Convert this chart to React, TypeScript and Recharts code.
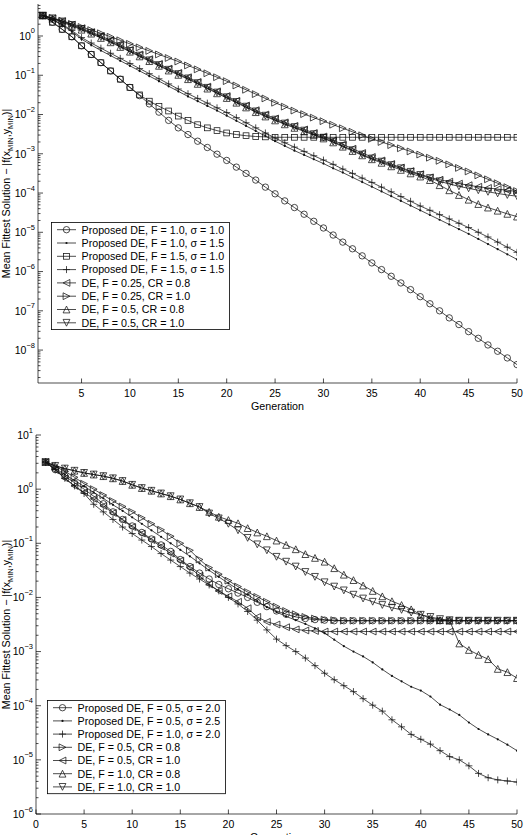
import React from 'react';
import { LineChart, Line, XAxis, YAxis, Legend } from 'recharts';

const FONT = '"Liberation Sans", Arial, Helvetica, sans-serif';

// generations (x categories)
const generations = Array.from({ length: 50 }, (_, i) => i + 1);

// ---- Top panel: values read as powers of ten (log10 of mean fittest solution) ----
const topCircle = [0.52, 0.35, 0.17, -0.02, -0.25, -0.47, -0.68, -0.89, -1.10, -1.31, -1.52, -1.73, -1.94, -2.15, -2.34, -2.51, -2.68, -2.84, -3.01, -3.17, -3.34, -3.50, -3.67, -3.85, -4.02, -4.20, -4.37, -4.54, -4.72, -4.89, -5.07, -5.25, -5.42, -5.60, -5.78, -5.95, -6.12, -6.29, -6.46, -6.64, -6.82, -7.00, -7.18, -7.35, -7.53, -7.70, -7.87, -8.03, -8.20, -8.37];
const topDot = [0.52, 0.41, 0.28, 0.11, -0.08, -0.23, -0.37, -0.50, -0.63, -0.76, -0.89, -1.02, -1.15, -1.28, -1.41, -1.54, -1.66, -1.78, -1.90, -2.03, -2.16, -2.29, -2.42, -2.55, -2.68, -2.80, -2.92, -3.03, -3.14, -3.25, -3.37, -3.48, -3.60, -3.72, -3.84, -3.96, -4.08, -4.20, -4.32, -4.44, -4.56, -4.68, -4.80, -4.92, -5.04, -5.17, -5.30, -5.43, -5.56, -5.69];
const topSquare = [0.52, 0.35, 0.17, -0.02, -0.25, -0.47, -0.68, -0.89, -1.10, -1.31, -1.50, -1.66, -1.79, -1.91, -2.04, -2.15, -2.26, -2.34, -2.41, -2.47, -2.51, -2.54, -2.56, -2.57, -2.58, -2.58, -2.58, -2.58, -2.58, -2.58, -2.58, -2.58, -2.58, -2.58, -2.58, -2.58, -2.58, -2.58, -2.58, -2.58, -2.58, -2.58, -2.58, -2.58, -2.58, -2.58, -2.58, -2.58, -2.58, -2.58];
const topPlus = [0.52, 0.42, 0.30, 0.14, -0.04, -0.18, -0.31, -0.44, -0.57, -0.70, -0.83, -0.96, -1.09, -1.22, -1.35, -1.47, -1.59, -1.71, -1.83, -1.95, -2.08, -2.21, -2.34, -2.47, -2.60, -2.72, -2.83, -2.94, -3.05, -3.16, -3.27, -3.39, -3.50, -3.62, -3.73, -3.85, -3.97, -4.09, -4.21, -4.33, -4.44, -4.55, -4.66, -4.77, -4.88, -5.00, -5.12, -5.25, -5.38, -5.51];
const topLeftTri = [0.52, 0.45, 0.38, 0.29, 0.20, 0.10, 0.00, -0.11, -0.23, -0.35, -0.47, -0.59, -0.71, -0.83, -0.94, -1.05, -1.17, -1.29, -1.41, -1.53, -1.65, -1.77, -1.89, -2.00, -2.10, -2.20, -2.29, -2.38, -2.47, -2.56, -2.66, -2.76, -2.87, -2.98, -3.08, -3.17, -3.26, -3.35, -3.44, -3.52, -3.60, -3.66, -3.71, -3.76, -3.80, -3.84, -3.87, -3.90, -3.93, -3.96];
const topRightTri = [0.52, 0.46, 0.39, 0.31, 0.23, 0.15, 0.07, -0.02, -0.11, -0.20, -0.29, -0.38, -0.47, -0.56, -0.65, -0.75, -0.85, -0.95, -1.05, -1.15, -1.26, -1.37, -1.48, -1.59, -1.70, -1.80, -1.90, -1.99, -2.08, -2.17, -2.26, -2.35, -2.44, -2.53, -2.62, -2.70, -2.78, -2.86, -2.94, -3.02, -3.10, -3.18, -3.27, -3.36, -3.45, -3.55, -3.65, -3.75, -3.85, -3.95];
const topUpTri = [0.52, 0.44, 0.35, 0.26, 0.16, 0.06, -0.05, -0.16, -0.28, -0.40, -0.52, -0.64, -0.76, -0.88, -0.99, -1.10, -1.22, -1.34, -1.46, -1.58, -1.70, -1.82, -1.94, -2.05, -2.15, -2.25, -2.34, -2.43, -2.52, -2.61, -2.71, -2.82, -2.93, -3.04, -3.14, -3.23, -3.32, -3.41, -3.50, -3.58, -3.67, -3.80, -3.93, -4.05, -4.17, -4.28, -4.37, -4.45, -4.53, -4.60];
const topDownTri = [0.52, 0.45, 0.37, 0.28, 0.18, 0.08, -0.03, -0.14, -0.26, -0.38, -0.50, -0.62, -0.74, -0.86, -0.97, -1.08, -1.20, -1.32, -1.44, -1.56, -1.68, -1.80, -1.92, -2.03, -2.13, -2.23, -2.32, -2.41, -2.50, -2.59, -2.69, -2.80, -2.91, -3.02, -3.12, -3.20, -3.29, -3.37, -3.46, -3.54, -3.62, -3.70, -3.77, -3.83, -3.88, -3.93, -3.97, -4.01, -4.05, -4.08];

// ---- Bottom panel ----
const botCircle = [0.50, 0.36, 0.24, 0.12, 0.00, -0.13, -0.27, -0.42, -0.56, -0.68, -0.80, -0.92, -1.03, -1.15, -1.30, -1.43, -1.55, -1.66, -1.76, -1.84, -1.92, -2.00, -2.09, -2.17, -2.25, -2.31, -2.36, -2.39, -2.41, -2.42, -2.43, -2.43, -2.43, -2.43, -2.43, -2.43, -2.43, -2.43, -2.43, -2.43, -2.43, -2.43, -2.43, -2.43, -2.43, -2.43, -2.43, -2.43, -2.43, -2.43];
const botDot = [0.50, 0.38, 0.27, 0.16, 0.05, -0.06, -0.17, -0.29, -0.40, -0.52, -0.64, -0.76, -0.88, -1.00, -1.12, -1.24, -1.37, -1.50, -1.62, -1.74, -1.85, -1.95, -2.07, -2.18, -2.27, -2.35, -2.42, -2.49, -2.57, -2.66, -2.78, -2.90, -3.00, -3.09, -3.20, -3.33, -3.45, -3.55, -3.65, -3.72, -3.83, -3.98, -4.07, -4.17, -4.31, -4.43, -4.53, -4.62, -4.72, -4.83];
const botPlus = [0.50, 0.36, 0.20, 0.06, -0.08, -0.28, -0.42, -0.56, -0.70, -0.82, -0.94, -1.06, -1.19, -1.31, -1.43, -1.55, -1.66, -1.77, -1.88, -2.00, -2.12, -2.26, -2.42, -2.60, -2.77, -2.89, -3.00, -3.12, -3.26, -3.40, -3.52, -3.63, -3.74, -3.87, -3.99, -4.10, -4.26, -4.39, -4.53, -4.62, -4.71, -4.83, -4.94, -5.00, -5.11, -5.25, -5.33, -5.37, -5.39, -5.41];
const botRightTri = [0.50, 0.42, 0.33, 0.22, 0.10, 0.00, -0.11, -0.22, -0.32, -0.42, -0.53, -0.64, -0.75, -0.87, -1.00, -1.13, -1.30, -1.45, -1.57, -1.69, -1.80, -1.90, -1.99, -2.08, -2.17, -2.25, -2.31, -2.36, -2.39, -2.41, -2.42, -2.43, -2.43, -2.43, -2.43, -2.43, -2.43, -2.43, -2.43, -2.43, -2.43, -2.43, -2.43, -2.43, -2.43, -2.43, -2.43, -2.43, -2.43, -2.43];
const botLeftTri = [0.50, 0.35, 0.20, 0.06, -0.06, -0.18, -0.31, -0.44, -0.57, -0.70, -0.82, -0.94, -1.06, -1.19, -1.32, -1.45, -1.60, -1.76, -1.88, -1.98, -2.08, -2.20, -2.36, -2.45, -2.50, -2.55, -2.59, -2.61, -2.62, -2.63, -2.63, -2.63, -2.63, -2.63, -2.63, -2.63, -2.63, -2.63, -2.63, -2.63, -2.63, -2.63, -2.63, -2.63, -2.63, -2.63, -2.63, -2.63, -2.63, -2.63];
const botUpTri = [0.50, 0.43, 0.38, 0.34, 0.30, 0.27, 0.24, 0.20, 0.15, 0.08, 0.02, -0.03, -0.08, -0.13, -0.19, -0.26, -0.33, -0.42, -0.51, -0.57, -0.63, -0.72, -0.80, -0.87, -0.95, -1.03, -1.11, -1.20, -1.27, -1.34, -1.46, -1.58, -1.68, -1.78, -1.88, -1.98, -2.07, -2.14, -2.22, -2.32, -2.38, -2.42, -2.43, -2.85, -2.97, -3.06, -3.14, -3.32, -3.38, -3.49];
const botDownTri = [0.50, 0.43, 0.38, 0.34, 0.30, 0.27, 0.24, 0.20, 0.15, 0.08, 0.02, -0.03, -0.08, -0.13, -0.19, -0.26, -0.33, -0.45, -0.54, -0.64, -0.76, -0.90, -1.02, -1.13, -1.25, -1.34, -1.43, -1.53, -1.62, -1.72, -1.80, -1.87, -1.95, -2.02, -2.08, -2.14, -2.19, -2.23, -2.28, -2.32, -2.36, -2.40, -2.42, -2.43, -2.43, -2.43, -2.43, -2.43, -2.43, -2.43];

// ---- axis ticks ----
const topXTicks = [5, 10, 15, 20, 25, 30, 35, 40, 45, 50];
const botXTicks = [0, 5, 10, 15, 20, 25, 30, 35, 40, 45, 50];
const topDecades = [-9, -8, -7, -6, -5, -4, -3, -2, -1, 0];
const botDecades = [-6, -5, -4, -3, -2, -1, 0, 1];
const topYDomain = [1.45e-9, 6.53];
const botYDomain = [1e-6, 10];

type Shape = 'circle' | 'dot' | 'square' | 'plus' | 'left' | 'right' | 'up' | 'down';
interface Series { key: string; name: string; shape: Shape; exps: number[] }

const topSeries: Series[] = [
  { key: 's1', name: 'Proposed DE, F = 1.0, σ = 1.0', shape: 'circle', exps: topCircle },
  { key: 's2', name: 'Proposed DE, F = 1.0, σ = 1.5', shape: 'dot', exps: topDot },
  { key: 's3', name: 'Proposed DE, F = 1.5, σ = 1.0', shape: 'square', exps: topSquare },
  { key: 's4', name: 'Proposed DE, F = 1.5, σ = 1.5', shape: 'plus', exps: topPlus },
  { key: 's5', name: 'DE, F = 0.25, CR = 0.8', shape: 'left', exps: topLeftTri },
  { key: 's6', name: 'DE, F = 0.25, CR = 1.0', shape: 'right', exps: topRightTri },
  { key: 's7', name: 'DE, F = 0.5, CR = 0.8', shape: 'up', exps: topUpTri },
  { key: 's8', name: 'DE, F = 0.5, CR = 1.0', shape: 'down', exps: topDownTri },
];

const botSeries: Series[] = [
  { key: 's1', name: 'Proposed DE, F = 0.5, σ = 2.0', shape: 'circle', exps: botCircle },
  { key: 's2', name: 'Proposed DE, F = 0.5, σ = 2.5', shape: 'dot', exps: botDot },
  { key: 's3', name: 'Proposed DE, F = 1.0, σ = 2.0', shape: 'plus', exps: botPlus },
  { key: 's4', name: 'DE, F = 0.5, CR = 0.8', shape: 'right', exps: botRightTri },
  { key: 's5', name: 'DE, F = 0.5, CR = 1.0', shape: 'left', exps: botLeftTri },
  { key: 's6', name: 'DE, F = 1.0, CR = 0.8', shape: 'up', exps: botUpTri },
  { key: 's7', name: 'DE, F = 1.0, CR = 1.0', shape: 'down', exps: botDownTri },
];

function buildRows(series: Series[]) {
  return generations.map((g, i) => {
    const row: Record<string, number> = { gen: g };
    series.forEach((s) => { row[s.key] = Math.pow(10, s.exps[i]); });
    return row;
  });
}

function buildYTicks(decades: number[], domain: number[]) {
  const out: number[] = [];
  decades.forEach((e) => {
    for (let k = 1; k <= 9; k++) {
      const v = k * Math.pow(10, e);
      if (v >= domain[0] && v <= domain[1]) out.push(v);
    }
  });
  return out;
}

const STROKE = '#111';

function Marker({ shape, cx, cy }: { shape: Shape; cx: number; cy: number }) {
  const s = 3.4;
  const common = { fill: 'none', stroke: STROKE, strokeWidth: 0.75 };
  switch (shape) {
    case 'circle':
      return <circle cx={cx} cy={cy} r={3.2} {...common} />;
    case 'dot':
      return <circle cx={cx} cy={cy} r={1.1} fill={STROKE} />;
    case 'square':
      return <rect x={cx - 2.9} y={cy - 2.9} width={5.8} height={5.8} {...common} />;
    case 'plus':
      return <path d={`M${cx - 3.5},${cy}H${cx + 3.5}M${cx},${cy - 3.5}V${cy + 3.5}`} {...common} />;
    case 'left':
      return <polygon points={`${cx - s},${cy} ${cx + s},${cy - s} ${cx + s},${cy + s}`} {...common} />;
    case 'right':
      return <polygon points={`${cx + s},${cy} ${cx - s},${cy - s} ${cx - s},${cy + s}`} {...common} />;
    case 'up':
      return <polygon points={`${cx},${cy - s} ${cx - s},${cy + s} ${cx + s},${cy + s}`} {...common} />;
    case 'down':
      return <polygon points={`${cx},${cy + s} ${cx - s},${cy - s} ${cx + s},${cy - s}`} {...common} />;
  }
  return null;
}

function isMajor(v: number) {
  const l = Math.log10(v);
  return Math.abs(l - Math.round(l)) < 1e-6;
}

const YTickLeft = (props: any) => {
  const { x, y, payload } = props;
  const v = payload.value as number;
  const major = isMajor(v);
  const e = Math.round(Math.log10(v));
  return (
    <g>
      <line x1={x} x2={x + (major ? 5 : 2.5)} y1={y} y2={y} stroke="#000" strokeWidth={0.7} />
      {major && (
        <text x={x - 3} y={y + 3.8} textAnchor="end" fontSize={10.5} fontFamily={FONT} fill="#000">
          10<tspan dy={-6.3} fontSize={7.5}>{e < 0 ? `−${-e}` : `${e}`}</tspan>
        </text>
      )}
    </g>
  );
};

const YTickRight = (props: any) => {
  const { x, y, payload } = props;
  const major = isMajor(payload.value as number);
  return <line x1={x} x2={x - (major ? 5 : 2.5)} y1={y} y2={y} stroke="#000" strokeWidth={0.7} />;
};

const XTickBottom = (props: any) => {
  const { x, y, payload } = props;
  return (
    <g>
      <line x1={x} x2={x} y1={y} y2={y - 4.5} stroke="#000" strokeWidth={0.7} />
      <text x={x} y={y + 13.5} textAnchor="middle" fontSize={10.5} fontFamily={FONT} fill="#000">
        {payload.value}
      </text>
    </g>
  );
};

const XTickTop = (props: any) => {
  const { x, y } = props;
  return <line x1={x} x2={x} y1={y} y2={y + 4.5} stroke="#000" strokeWidth={0.7} />;
};

function LegendBox({ series, width, rowH }: { series: Series[]; width: number; rowH: number }) {
  const h = 15 + (series.length - 1) * rowH;
  return (
    <svg width={width} height={h} style={{ display: 'block', overflow: 'visible' }}>
      <rect x={0.5} y={0.5} width={width - 1} height={h - 1} fill="#fff" stroke="#000" strokeWidth={0.8} />
      {series.map((s, i) => {
        const cy = 7.7 + i * rowH;
        return (
          <g key={s.key}>
            <line x1={6} x2={25} y1={cy} y2={cy} stroke={STROKE} strokeWidth={0.75} />
            <Marker shape={s.shape} cx={15.5} cy={cy} />
            <text x={30.5} y={cy + 3.8} fontSize={10.7} fontFamily={FONT} fill="#000">
              {s.name}
            </text>
          </g>
        );
      })}
    </svg>
  );
}

function YLabel({ cx, cy }: { cx: number; cy: number }) {
  return (
    <text transform={`translate(${cx},${cy}) rotate(-90)`} textAnchor="middle" fontSize={10.7} fontFamily={FONT} fill="#000">
      Mean Fittest Solution − |f(x<tspan fontSize={7.5} dy={3}>MIN</tspan>
      <tspan dy={-3}>,y</tspan>
      <tspan fontSize={7.5} dy={3}>MIN</tspan>
      <tspan dy={-3}>)|</tspan>
    </text>
  );
}

interface PanelProps {
  series: Series[];
  width: number;
  height: number;
  margin: { top: number; right: number; bottom: number; left: number };
  xDomain: number[];
  xTicks: number[];
  xAxisHeight: number;
  yDomain: number[];
  yDecades: number[];
  yAxisWidth: number;
  legendLeft: number;
  legendTop: number;
  rowH: number;
}

function Panel(p: PanelProps) {
  const rows = buildRows(p.series);
  const yTicks = buildYTicks(p.yDecades, p.yDomain);
  const plotTop = p.margin.top;
  const plotBottom = p.height - p.margin.bottom - p.xAxisHeight;
  const plotLeft = p.margin.left + p.yAxisWidth;
  const plotRight = p.width - p.margin.right;
  const legendH = 15 + (p.series.length - 1) * p.rowH;
  return (
    <LineChart width={p.width} height={p.height} data={rows} margin={p.margin}>
      <XAxis
        xAxisId="b"
        dataKey="gen"
        type="number"
        domain={p.xDomain}
        ticks={p.xTicks}
        allowDataOverflow
        interval={0}
        height={p.xAxisHeight}
        tickSize={0}
        tickMargin={0}
        tickLine={false}
        axisLine={{ stroke: '#000', strokeWidth: 0.7 }}
        tick={XTickBottom}
        label={{
          value: 'Generation',
          content: () => (
            <text x={(plotLeft + plotRight) / 2} y={plotBottom + 26.5} textAnchor="middle" fontSize={10.7} fontFamily={FONT} fill="#000">
              Generation
            </text>
          ),
        }}
      />
      <XAxis
        xAxisId="t"
        orientation="top"
        type="number"
        dataKey="gen"
        domain={p.xDomain}
        ticks={p.xTicks}
        allowDataOverflow
        interval={0}
        height={0}
        tickSize={0}
        tickMargin={0}
        tickLine={false}
        axisLine={{ stroke: '#000', strokeWidth: 0.7 }}
        tick={XTickTop}
      />
      <YAxis
        yAxisId="l"
        type="number"
        scale="log"
        domain={p.yDomain}
        ticks={yTicks}
        allowDataOverflow
        interval={0}
        width={p.yAxisWidth}
        tickSize={0}
        tickMargin={0}
        tickLine={false}
        axisLine={{ stroke: '#000', strokeWidth: 0.7 }}
        tick={YTickLeft}
        label={{
          value: 'ylabel',
          content: () => <YLabel cx={10} cy={(plotTop + plotBottom) / 2} />,
        }}
      />
      <YAxis
        yAxisId="r"
        orientation="right"
        type="number"
        scale="log"
        domain={p.yDomain}
        ticks={yTicks}
        allowDataOverflow
        interval={0}
        width={0}
        tickSize={0}
        tickMargin={0}
        tickLine={false}
        axisLine={{ stroke: '#000', strokeWidth: 0.7 }}
        tick={YTickRight}
      />
      {p.series.map((s) => (
        <Line
          key={s.key}
          xAxisId="b"
          yAxisId="l"
          type="linear"
          dataKey={s.key}
          name={s.name}
          stroke={STROKE}
          strokeWidth={0.75}
          isAnimationActive={false}
          dot={(d: any) => (
            <g key={`${s.key}-${d.index}`}>
              <Marker shape={s.shape} cx={d.cx} cy={d.cy} />
            </g>
          )}
          activeDot={false}
        />
      ))}
      <Legend
        layout="vertical"
        align="center"
        verticalAlign="middle"
        wrapperStyle={{ position: 'absolute', left: p.legendLeft, top: p.legendTop, width: 179, height: legendH }}
        content={() => <LegendBox series={p.series} width={179} rowH={p.rowH} />}
      />
    </LineChart>
  );
}

export default function App() {
  return (
    <div style={{ position: 'absolute', left: 0, top: 0, width: 525, height: 835, overflow: 'hidden', background: '#fff' }}>
      <div style={{ position: 'absolute', left: 0, top: 0 }}>
        <Panel
          series={topSeries}
          width={525}
          height={415}
          margin={{ top: 4, right: 8, bottom: 0, left: 8 }}
          xDomain={[0.5, 50]}
          xTicks={topXTicks}
          xAxisHeight={32}
          yDomain={topYDomain}
          yDecades={topDecades}
          yAxisWidth={30}
          legendLeft={51}
          legendTop={222}
          rowH={13.3}
        />
      </div>
      <div style={{ position: 'absolute', left: 0, top: 415 }}>
        <Panel
          series={botSeries}
          width={525}
          height={435}
          margin={{ top: 20, right: 8, bottom: 0, left: 8 }}
          xDomain={[0, 50]}
          xTicks={botXTicks}
          xAxisHeight={36}
          yDomain={botYDomain}
          yDecades={botDecades}
          yAxisWidth={28}
          legendLeft={47}
          legendTop={285}
          rowH={13.2}
        />
      </div>
    </div>
  );
}
